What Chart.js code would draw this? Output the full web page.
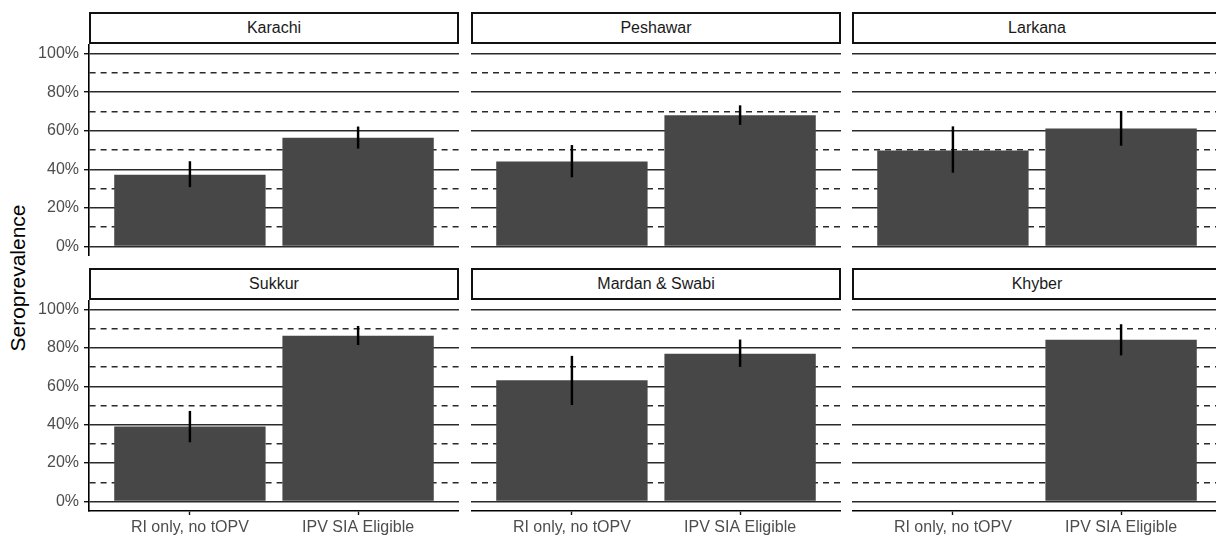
<!DOCTYPE html>
<html>
<head>
<meta charset="utf-8">
<title>Seroprevalence by district</title>
<script src="https://cdn.jsdelivr.net/npm/chart.js@4.4.1/dist/chart.umd.min.js"></script>
<style>
  html, body { margin: 0; padding: 0; background: #fff; }
  #fig { position: relative; width: 1216px; height: 538px; overflow: hidden; background: #fff;
         font-family: "Liberation Sans", Arial, Helvetica, sans-serif; }
  #fig canvas { position: absolute; }
  .strip { position: absolute; box-sizing: border-box; border: 2px solid #111; background: #fff;
           color: #1a1a1a; font-size: 16px; display: flex; align-items: center; justify-content: center; }
  #ytitle { position: absolute; left: 18px; top: 278px; transform: translate(-50%, -50%) rotate(-90deg);
            font-size: 21px; color: #000; white-space: nowrap; }
</style>
</head>
<body>
<div id="fig"><div id="ytitle">Seroprevalence</div></div>
<script>
// Groups on the x axis of every panel
const categories = ['RI only, no tOPV', 'IPV SIA Eligible'];

// One panel per district, filled row by row
const districts = ['Karachi', 'Peshawar', 'Larkana', 'Sukkur', 'Mardan & Swabi', 'Khyber'];

// Seroprevalence (%) and 95% interval per district
const riOnly   = [37.2, 44.0, 49.8, 39.0, 63.1, null];
const riLower  = [30.9, 36.0, 38.4, 31.0, 50.4, null];
const riUpper  = [44.0, 52.4, 62.1, 47.0, 75.7, null];
const ipvSia   = [56.4, 68.0, 61.2, 86.4, 77.0, 84.3];
const ipvLower = [50.9, 63.2, 52.4, 81.7, 70.3, 76.3];
const ipvUpper = [62.0, 73.0, 70.1, 91.3, 84.2, 92.2];

// Y grid: every 10%, labelled every 20%
const yTickValues = [0, 10, 20, 30, 40, 50, 60, 70, 80, 90, 100];
const yLabelledTicks = [0, 20, 40, 60, 80, 100];

// Panel layout
const colLeft = [89, 471, 852];
const rowTop = [44, 300];
const panelW = 370;
const panelH = [212, 211];
const stripH = 32;
const yAxisW = 89;
const xAxisH = 40;

Chart.defaults.font.family = '"Liberation Sans", Arial, Helvetica, sans-serif';
Chart.defaults.font.size = 16;

const fig = document.getElementById('fig');
const isMajor = v => yLabelledTicks.includes(v);
const zeroPadding = s => { s.paddingTop = 0; s.paddingBottom = 0; s.paddingLeft = 0; s.paddingRight = 0; };

districts.forEach((name, i) => {
  const row = Math.floor(i / 3);
  const col = i % 3;
  const firstCol = col === 0;
  const bottomRow = row === 1;

  // facet strip
  const strip = document.createElement('div');
  strip.className = 'strip';
  strip.textContent = name;
  strip.style.left = colLeft[col] + 'px';
  strip.style.top = (rowTop[row] - stripH) + 'px';
  strip.style.width = panelW + 'px';
  strip.style.height = stripH + 'px';
  fig.appendChild(strip);

  // panel canvas
  const canvas = document.createElement('canvas');
  const w = panelW + (firstCol ? yAxisW : 0);
  const h = panelH[row] + (bottomRow ? xAxisH : 0);
  canvas.width = w;
  canvas.height = h;
  canvas.style.width = w + 'px';
  canvas.style.height = h + 'px';
  canvas.style.left = (firstCol ? colLeft[0] - yAxisW : colLeft[col]) + 'px';
  canvas.style.top = rowTop[row] + 'px';
  fig.appendChild(canvas);

  const estimates = [riOnly[i], ipvSia[i]];
  const lows = [riLower[i], ipvLower[i]];
  const highs = [riUpper[i], ipvUpper[i]];

  new Chart(canvas, {
    type: 'bar',
    data: {
      datasets: [
        {
          label: 'interval',
          data: categories.map((c, k) => ({ x: k, y: lows[k] == null ? null : [lows[k], highs[k]] })),
          backgroundColor: '#000',
          barThickness: 1.8,
          grouped: false
        },
        {
          label: 'seroprevalence',
          data: categories.map((c, k) => ({ x: k, y: estimates[k] })),
          backgroundColor: '#474747',
          barPercentage: 0.9,
          categoryPercentage: 1,
          grouped: false
        }
      ]
    },
    options: {
      responsive: false,
      animation: false,
      devicePixelRatio: 1,
      layout: { padding: 0 },
      plugins: { legend: { display: false }, tooltip: { enabled: false } },
      scales: {
        x: {
          type: 'linear',
          display: bottomRow,
          min: -0.6,
          max: 1.6,
          offset: false,
          afterBuildTicks: s => { s.ticks = categories.map((c, k) => ({ value: k })); },
          afterFit: s => { s.height = bottomRow ? xAxisH : 0; zeroPadding(s); },
          grid: { drawOnChartArea: false, drawTicks: true, offset: false,
                  tickLength: 4, tickColor: '#111', tickWidth: 1.4 },
          border: { display: true, color: '#000', width: 1.6 },
          ticks: { color: '#4d4d4d', padding: 3, maxRotation: 0, minRotation: 0, autoSkip: false,
                   font: { size: 16 }, callback: v => categories[v] }
        },
        y: {
          type: 'linear',
          min: -5,
          max: 105,
          afterBuildTicks: s => { s.ticks = yTickValues.map(v => ({ value: v })); },
          afterFit: s => { s.width = firstCol ? yAxisW : 0; zeroPadding(s); },
          grid: {
            color: '#2a2a2a',
            lineWidth: 1.4,
            drawTicks: firstCol,
            tickLength: 5,
            tickWidth: 1.4,
            tickColor: c => (c.tick && isMajor(c.tick.value)) ? '#111' : 'rgba(0,0,0,0)',
            borderDash: c => (c.tick && !isMajor(c.tick.value)) ? [6, 5] : []
          },
          border: {
            display: firstCol,
            color: '#000',
            width: 1.6,
            dash: c => (c.tick && !isMajor(c.tick.value)) ? [6, 5] : []
          },
          ticks: {
            display: firstCol,
            autoSkip: false,
            color: '#4d4d4d',
            padding: 5,
            font: { size: 16 },
            callback: v => isMajor(v) ? v + '%' : ''
          }
        }
      }
    }
  });
});
</script>
</body>
</html>
